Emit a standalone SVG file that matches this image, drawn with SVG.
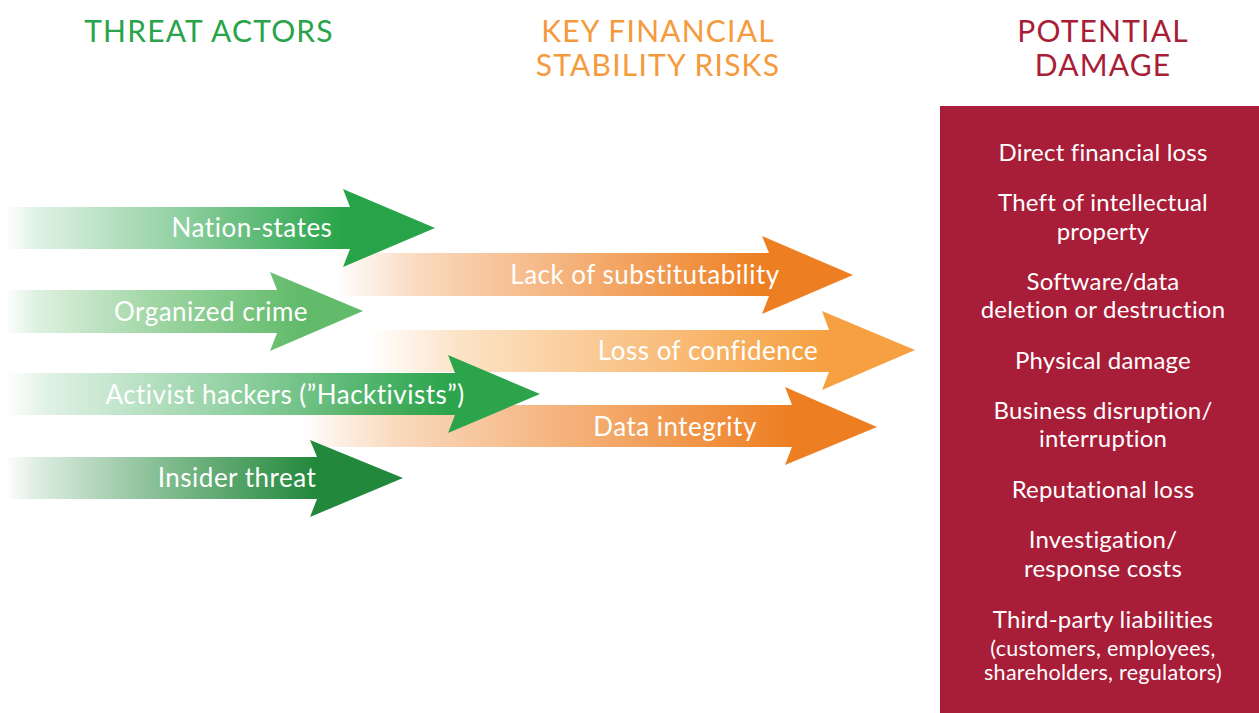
<svg xmlns="http://www.w3.org/2000/svg" width="1259" height="713" viewBox="0 0 1259 713">
<style>
.title{font-family:Lato,"Noto Sans",sans-serif;font-size:30px;text-anchor:middle;letter-spacing:1.2px}
.lbl{font-family:Lato,"Noto Sans",sans-serif;font-size:26px;fill:#ffffff;text-anchor:middle;letter-spacing:0.5px}
.dmg{font-family:Lato,"Noto Sans",sans-serif;font-size:24px;fill:#ffffff;text-anchor:middle;letter-spacing:0.2px}
.dmgs{font-family:Lato,"Noto Sans",sans-serif;font-size:21.5px;fill:#ffffff;text-anchor:middle;letter-spacing:0.3px}
</style>
<defs>
<linearGradient id="gNation" gradientUnits="userSpaceOnUse" x1="5" y1="0" x2="345" y2="0">
<stop offset="0" stop-color="#27a348" stop-opacity="0"/><stop offset="0.1" stop-color="#27a348" stop-opacity="0.15"/><stop offset="0.5" stop-color="#27a348" stop-opacity="0.5"/><stop offset="1" stop-color="#27a348" stop-opacity="1"/>
</linearGradient>
<linearGradient id="gOrg" gradientUnits="userSpaceOnUse" x1="5" y1="0" x2="300" y2="0">
<stop offset="0" stop-color="#62bb6a" stop-opacity="0"/><stop offset="0.1" stop-color="#62bb6a" stop-opacity="0.2"/><stop offset="0.5" stop-color="#62bb6a" stop-opacity="0.6"/><stop offset="1" stop-color="#62bb6a" stop-opacity="1"/>
</linearGradient>
<linearGradient id="gAct" gradientUnits="userSpaceOnUse" x1="5" y1="0" x2="450" y2="0">
<stop offset="0" stop-color="#2ba44b" stop-opacity="0"/><stop offset="0.1" stop-color="#2ba44b" stop-opacity="0.15"/><stop offset="0.5" stop-color="#2ba44b" stop-opacity="0.5"/><stop offset="1" stop-color="#2ba44b" stop-opacity="1"/>
</linearGradient>
<linearGradient id="gIns" gradientUnits="userSpaceOnUse" x1="5" y1="0" x2="315" y2="0">
<stop offset="0" stop-color="#22883b" stop-opacity="0"/><stop offset="0.1" stop-color="#22883b" stop-opacity="0.15"/><stop offset="0.5" stop-color="#22883b" stop-opacity="0.55"/><stop offset="1" stop-color="#22883b" stop-opacity="1"/>
</linearGradient>
<linearGradient id="gLack" gradientUnits="userSpaceOnUse" x1="335" y1="0" x2="765" y2="0">
<stop offset="0" stop-color="#ed7f22" stop-opacity="0"/><stop offset="0.2" stop-color="#ed7f22" stop-opacity="0.3"/><stop offset="0.6" stop-color="#ed7f22" stop-opacity="0.65"/><stop offset="1" stop-color="#ed7f22" stop-opacity="1"/>
</linearGradient>
<linearGradient id="gLoss" gradientUnits="userSpaceOnUse" x1="370" y1="0" x2="825" y2="0">
<stop offset="0" stop-color="#f6a041" stop-opacity="0"/><stop offset="0.2" stop-color="#f6a041" stop-opacity="0.3"/><stop offset="0.6" stop-color="#f6a041" stop-opacity="0.65"/><stop offset="1" stop-color="#f6a041" stop-opacity="1"/>
</linearGradient>
<linearGradient id="gData" gradientUnits="userSpaceOnUse" x1="300" y1="0" x2="790" y2="0">
<stop offset="0" stop-color="#ed7f22" stop-opacity="0"/><stop offset="0.2" stop-color="#ed7f22" stop-opacity="0.3"/><stop offset="0.6" stop-color="#ed7f22" stop-opacity="0.65"/><stop offset="1" stop-color="#ed7f22" stop-opacity="1"/>
</linearGradient>
</defs>
<rect width="1259" height="713" fill="#ffffff"/>
<g id="titles">
<text class="title" x="209" y="42" fill="#2aa44a">THREAT ACTORS</text>
<text class="title" x="658" y="42" fill="#f59a3d">KEY FINANCIAL</text>
<text class="title" x="658" y="76" fill="#f59a3d">STABILITY RISKS</text>
<text class="title" x="1103" y="42" fill="#a81d37">POTENTIAL</text>
<text class="title" x="1103" y="76" fill="#a81d37">DAMAGE</text>
</g>
<g id="connectors">
<g id="risk-lack">
<path d="M335,253 H769 L762,236 L853,275 L762,314 L769,296 H335 Z" fill="url(#gLack)"/>
<text class="lbl" x="645" y="284">Lack of substitutability</text>
</g>
<g id="risk-loss">
<path d="M370,330 H829 L822,311 L915,350 L822,390 L829,372 H370 Z" fill="url(#gLoss)"/>
<text class="lbl" x="708" y="360">Loss of confidence</text>
</g>
<g id="risk-data">
<path d="M300,405 H792 L785,387 L877,427 L785,465 L792,447 H300 Z" fill="url(#gData)"/>
<text class="lbl" x="675" y="436">Data integrity</text>
</g>
<g id="actor-nation">
<path d="M5,207 H350 L343,189 L435,228 L343,267 L350,249 H5 Z" fill="url(#gNation)"/>
<text class="lbl" x="252" y="237">Nation-states</text>
</g>
<g id="actor-crime">
<path d="M5,290 H277 L270,272 L363,311 L270,351 L277,333 H5 Z" fill="url(#gOrg)"/>
<text class="lbl" x="211" y="321">Organized crime</text>
</g>
<g id="actor-hack">
<path d="M5,373 H455 L448,355 L540,394 L448,433 L455,415 H5 Z" fill="url(#gAct)"/>
<text class="lbl" x="285" y="404">Activist hackers (”Hacktivists”)</text>
</g>
<g id="actor-insider">
<path d="M5,457 H317 L310,440 L403,478 L310,517 L317,499 H5 Z" fill="url(#gIns)"/>
<text class="lbl" x="237" y="487">Insider threat</text>
</g>
</g>
<g id="damage">
<rect x="940" y="106" width="319" height="607" fill="#a81d37"/>
<text class="dmg" x="1103" y="161">Direct financial loss</text>
<text class="dmg" x="1103" y="211">Theft of intellectual</text>
<text class="dmg" x="1103" y="240">property</text>
<text class="dmg" x="1103" y="290">Software/data</text>
<text class="dmg" x="1103" y="318">deletion or destruction</text>
<text class="dmg" x="1103" y="369">Physical damage</text>
<text class="dmg" x="1103" y="419">Business disruption/</text>
<text class="dmg" x="1103" y="447">interruption</text>
<text class="dmg" x="1103" y="498">Reputational loss</text>
<text class="dmg" x="1103" y="548">Investigation/</text>
<text class="dmg" x="1103" y="577">response costs</text>
<text class="dmg" x="1103" y="628">Third-party liabilities</text>
<text class="dmgs" x="1103" y="656">(customers, employees,</text>
<text class="dmgs" x="1103" y="680">shareholders, regulators)</text>
</g>
</svg>
